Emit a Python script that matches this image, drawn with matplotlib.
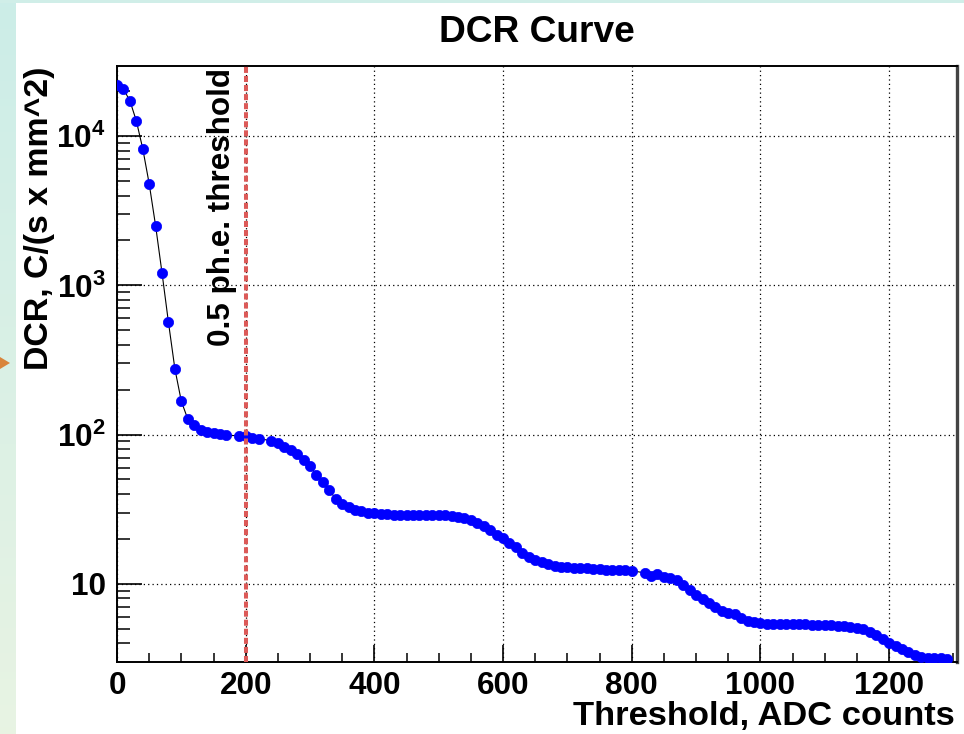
import numpy as np
import matplotlib
matplotlib.use("Agg")
import matplotlib.pyplot as plt
from matplotlib.patches import Rectangle, Polygon
from matplotlib.ticker import FixedLocator, FixedFormatter, NullFormatter
import matplotlib.transforms as mtransforms

# ---- data ----
threshold = [0, 10, 20, 30, 40, 50, 60, 70, 80, 90, 100, 110, 120, 130, 140, 150, 160, 170,
             190, 200, 210, 220, 240, 250, 260, 270, 280, 290, 300, 310, 320, 330, 340, 350,
             360, 370, 380, 390, 400, 410, 420, 430, 440, 450, 460, 470, 480, 490, 500, 510,
             520, 530, 540, 550, 560, 570, 580, 590, 600, 610, 620, 630, 640, 650, 660, 670,
             680, 690, 700, 710, 720, 730, 740, 750, 760, 770, 780, 790, 800, 820, 830, 840,
             850, 860, 870, 880, 890, 900, 910, 920, 930, 940, 950, 960, 970, 980, 990, 1000,
             1010, 1020, 1030, 1040, 1050, 1060, 1070, 1080, 1090, 1100, 1110, 1120, 1130,
             1140, 1150, 1160, 1170, 1180, 1190, 1200, 1210, 1220, 1230, 1240, 1250, 1260,
             1270, 1280, 1290]
dcr = [22000, 20700, 17300, 12700, 8260, 4810, 2510, 1210, 564, 275, 167, 127, 115, 107, 104,
       103, 101, 99, 98, 97.6, 95, 94, 90.8, 87.5, 83, 79, 74, 68, 61.7, 53.5, 48, 42.3, 37.1,
       34.4, 32.5, 31.3, 30.6, 30.0, 29.6, 29.3, 29.2, 29.1, 29.0, 29.0, 29.0, 28.9, 28.9, 28.9,
       28.8, 28.7, 28.5, 28.2, 27.5, 26.8, 25.7, 24.2, 23.0, 21.3, 20.2, 18.7, 17.5, 16.0, 15.1,
       14.5, 13.9, 13.5, 13.2, 13.0, 12.9, 12.8, 12.7, 12.65, 12.6, 12.5, 12.45, 12.4, 12.4,
       12.3, 12.25, 11.8, 11.3, 11.7, 11.1, 10.9, 10.6, 9.8, 9.1, 8.4, 7.9, 7.4, 7.0, 6.6, 6.4,
       6.3, 5.9, 5.65, 5.5, 5.42, 5.38, 5.36, 5.34, 5.33, 5.33, 5.33, 5.33, 5.32, 5.31, 5.3,
       5.27, 5.22, 5.17, 5.14, 5.07, 4.94, 4.76, 4.53, 4.24, 4.03, 3.84, 3.65, 3.47, 3.33, 3.21,
       3.2, 3.19, 3.16, 3.15]
threshold_line = 200
xticks = [0, 200, 400, 600, 800, 1000, 1200]
xtick_labels = ['0', '200', '400', '600', '800', '1000', '1200']
yticks = [10, 100, 1000, 10000]
ytick_labels = ['10', r'$\mathbf{10^{2}}$', r'$\mathbf{10^{3}}$', r'$\mathbf{10^{4}}$']
title = 'DCR Curve'
xlabel = 'Threshold, ADC counts'
ylabel = 'DCR, C/(s x mm^2)'
annot = '0.5 ph.e. threshold'

# ---- style ----
plt.rcParams['font.family'] = ['Liberation Sans', 'DejaVu Sans']
plt.rcParams['font.weight'] = 'bold'
plt.rcParams['mathtext.fontset'] = 'custom'
plt.rcParams['mathtext.rm'] = 'Liberation Sans:bold'
plt.rcParams['mathtext.bf'] = 'Liberation Sans:bold'
plt.rcParams['mathtext.it'] = 'Liberation Sans:bold'

W, H = 964, 734
fig = plt.figure(figsize=(W / 100, H / 100), dpi=100)
fig.patch.set_facecolor('white')

# background decorations
bg = fig.add_axes([0, 0, 16 / W, 1], zorder=-5)
grad = np.linspace(0, 1, 200)[:, None]
top_c = np.array([0.80, 0.93, 0.91])
bot_c = np.array([0.91, 0.955, 0.89])
img = top_c[None, None, :] * (1 - grad[:, :, None]) + bot_c[None, None, :] * grad[:, :, None]
bg.imshow(img, aspect='auto', extent=[0, 1, 0, 1])
bg.axis('off')
fig.patches.append(Rectangle((0, 1 - 3 / H), 1, 3 / H, transform=fig.transFigure,
                             facecolor='#d0eee8', edgecolor='none', zorder=-4))
fig.patches.append(Polygon([[0, 1 - 357 / H], [10 / W, 1 - 363 / H], [0, 1 - 369 / H]],
                           closed=True, transform=fig.transFigure,
                           facecolor='#d9853b', edgecolor='none', zorder=5))

ax = fig.add_axes([117 / W, 1 - 661.7 / H, (957.3 - 117) / W, (661.7 - 65.7) / H])
ax.set_yscale('log')
ax.set_xlim(0, 1306)
ax.set_ylim(3.0, 29700)

ax.plot(threshold, dcr, color='black', lw=0.8, zorder=3)
ax.plot(threshold, dcr, linestyle='none', marker='o', ms=7.4, mfc='#0000ff', mec='#0000ff',
        mew=0.5, zorder=4)
ax.axvline(threshold_line, color='#dc5a58', lw=2.9, linestyle=(0, (1.5, 0.75)), zorder=5)

trans = mtransforms.blended_transform_factory(ax.transData, ax.transAxes)
ax.text(163, 0.996, annot, rotation=90, ha='center', va='top', transform=trans,
        fontsize=22.6, fontweight='bold', zorder=6)

# ticks
ax.xaxis.set_major_locator(FixedLocator(xticks))
ax.xaxis.set_major_formatter(FixedFormatter(xtick_labels))
ax.xaxis.set_minor_locator(FixedLocator([v for v in range(50, 1301, 50) if v % 200]))
ax.yaxis.set_major_locator(FixedLocator(yticks))
ax.yaxis.set_major_formatter(FixedFormatter(ytick_labels))
minor_y = [m * 10 ** e for e in range(0, 5) for m in range(2, 10) if 3 <= m * 10 ** e <= 29700]
ax.yaxis.set_minor_locator(FixedLocator(minor_y))
ax.yaxis.set_minor_formatter(NullFormatter())

ax.tick_params(axis='x', which='major', direction='in', length=12.2, width=1.2,
               labelsize=22.7, pad=7, top=False)
ax.tick_params(axis='x', which='minor', direction='in', length=6.5, width=1.1, top=False)
ax.tick_params(axis='y', which='major', direction='in', length=18, width=1.2,
               labelsize=22.7, pad=8, right=False)
ax.tick_params(axis='y', which='minor', direction='in', length=9.1, width=1.1, right=False)
for lab in ax.get_xticklabels() + ax.get_yticklabels():
    lab.set_fontweight('bold')

ax.grid(True, which='major', color='black', lw=0.9, linestyle=(0, (1, 2.5)), zorder=1)

for s in ['left', 'bottom', 'top']:
    ax.spines[s].set_linewidth(1.4)
    ax.spines[s].set_color('black')
ax.spines['right'].set_linewidth(2.4)
ax.spines['right'].set_color('#444444')

# texts
fig.text(537 / W, 1 - 41.7 / H, title, ha='center', va='baseline', fontsize=26.7,
         fontweight='bold')
fig.text(955 / W, 1 - 725 / H, xlabel, ha='right', va='baseline', fontsize=24.8,
         fontweight='bold')
fig.text(40 / W, 1 - 66 / H, ylabel, ha='center', va='top', rotation=90, fontsize=24.4,
         fontweight='bold')

fig.savefig('out.png', dpi=100)
